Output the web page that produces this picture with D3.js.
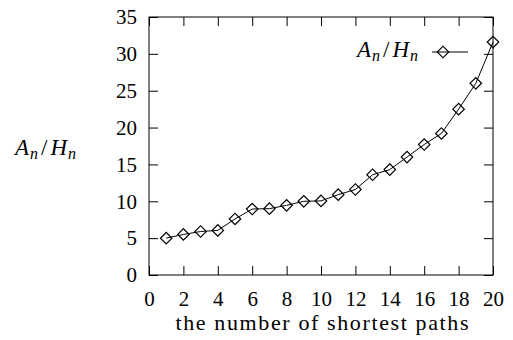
<!DOCTYPE html>
<html>
<head>
<meta charset="utf-8">
<script src="https://cdn.jsdelivr.net/npm/d3@7"></script>
</head>
<body style="margin:0">
<svg id="chart" width="513" height="340"></svg>
<script>
// Ratio A_n / H_n against the number of shortest paths
const pathCounts = [1, 2, 3, 4, 5, 6, 7, 8, 9, 10, 11, 12, 13, 14, 15, 16, 17, 18, 19, 20];
const ratioValues = [5.0, 5.5, 5.9, 6.05, 7.6, 8.95, 9.0, 9.45, 10.0, 10.05, 10.9, 11.6, 13.6, 14.3, 16.0, 17.7, 19.2, 22.5, 26.0, 31.6];
const xTicks = [0, 2, 4, 6, 8, 10, 12, 14, 16, 18, 20];
const yTicks = [0, 5, 10, 15, 20, 25, 30, 35];

const svg = d3.select("#chart");
const W = 513, H = 340;
const margin = { left: 149, right: 20, top: 17, bottom: 65 };
const x = d3.scaleLinear().domain([0, 20]).range([margin.left, W - margin.right]);
const y = d3.scaleLinear().domain([0, 35]).range([H - margin.bottom, margin.top]);
const tickLen = 9;
const FONT = '"Times New Roman"';

// inward ticks on all four sides of the frame
const axisStyle = g => {
  g.attr("font-family", null).attr("font-size", null);
  g.select(".domain").remove();
  g.selectAll(".tick line").attr("stroke", "#000").attr("stroke-width", 1);
  g.selectAll(".tick text").style("font-family", FONT).style("font-size", "21px").attr("fill", "#000");
};

svg.append("g")
  .attr("transform", `translate(0,${y(0)})`)
  .call(d3.axisBottom(x).tickValues(xTicks).tickSize(-tickLen).tickPadding(16).tickFormat(d3.format("d")))
  .call(axisStyle);
svg.append("g")
  .attr("transform", `translate(0,${y(35)})`)
  .call(d3.axisTop(x).tickValues(xTicks).tickSize(-tickLen).tickFormat(""))
  .call(axisStyle);
svg.append("g")
  .attr("transform", `translate(${x(0)},0)`)
  .call(d3.axisLeft(y).tickValues(yTicks).tickSize(-tickLen).tickPadding(12).tickFormat(d3.format("d")))
  .call(axisStyle);
svg.append("g")
  .attr("transform", `translate(${x(20)},0)`)
  .call(d3.axisRight(y).tickValues(yTicks).tickSize(-tickLen).tickFormat(""))
  .call(axisStyle);

// frame
svg.append("rect")
  .attr("x", x(0)).attr("y", y(35))
  .attr("width", x(20) - x(0)).attr("height", y(0) - y(35))
  .attr("fill", "none").attr("stroke", "#000").attr("stroke-width", 1);

const pts = pathCounts.map((n, i) => ({ n, v: ratioValues[i] }));

svg.append("path")
  .datum(pts)
  .attr("fill", "none").attr("stroke", "#000").attr("stroke-width", 1)
  .attr("d", d3.line().x(d => x(d.n)).y(d => y(d.v)));

const diamond = d3.symbol().type(d3.symbolSquare).size(66);
svg.append("g").selectAll("path")
  .data(pts).join("path")
  .attr("d", diamond)
  .attr("transform", d => `translate(${x(d.n)},${y(d.v)}) rotate(45)`)
  .attr("fill", "none").attr("stroke", "#000").attr("stroke-width", 1.2);

// math label A_n / H_n
function ratioLabel(sel) {
  sel.style("font-family", FONT).style("font-size", "23px").attr("fill", "#000");
  sel.append("tspan").style("font-style", "italic").text("A");
  sel.append("tspan").style("font-style", "italic").style("font-size", "16px").attr("dx", 1).attr("dy", 4).text("n");
  sel.append("tspan").attr("dx", 3).attr("dy", -4).text("/");
  sel.append("tspan").style("font-style", "italic").attr("dx", 3).text("H");
  sel.append("tspan").style("font-style", "italic").style("font-size", "16px").attr("dx", 1).attr("dy", 4).text("n");
}

// legend
const legY = 52;
svg.append("text").attr("x", 418).attr("y", legY + 5).attr("text-anchor", "end").call(ratioLabel);
svg.append("line").attr("x1", 432).attr("x2", 468).attr("y1", legY).attr("y2", legY)
  .attr("stroke", "#000").attr("stroke-width", 1);
svg.append("path").attr("d", diamond)
  .attr("transform", `translate(443,${legY}) rotate(45)`)
  .attr("fill", "none").attr("stroke", "#000").attr("stroke-width", 1.2);

// y-axis title
svg.append("text").attr("x", 15).attr("y", 155).call(ratioLabel);

// x-axis title
svg.append("text").attr("x", (x(0) + x(20)) / 2 + 1).attr("y", 330).attr("text-anchor", "middle")
  .style("font-family", FONT).style("font-size", "22px").attr("fill", "#000")
  .attr("textLength", 293).attr("lengthAdjust", "spacing")
  .text("the number of shortest paths");
</script>
</body>
</html>
